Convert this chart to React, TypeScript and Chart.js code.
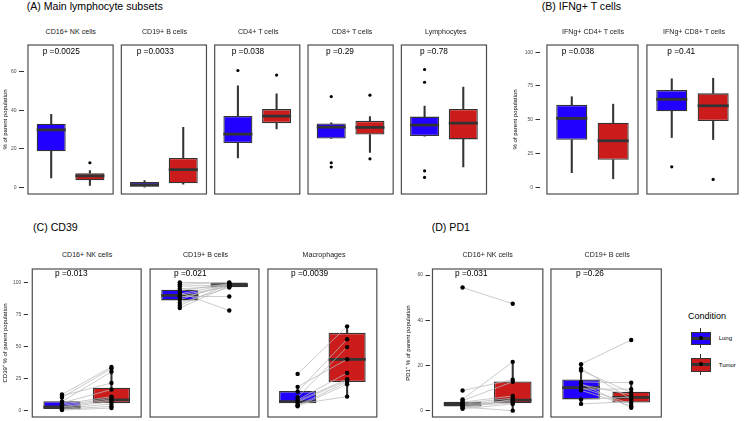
import React, { useEffect, useRef } from 'react';
import { Chart, registerables } from 'chart.js';

Chart.register(...registerables);

const FONT = '"Liberation Sans", Arial, Helvetica, sans-serif';

const CONDITIONS = ['Lung', 'Tumor'];
const CONDITION_COLORS = ['#2200ff', '#cc1b1b'];
const LEGEND_TITLE = 'Condition';

// ---------- (A) Main lymphocyte subsets ----------
const A_TITLE = '(A) Main lymphocyte subsets';
const A_Y_TITLE = '% of parent population';
const A_FACETS = ['CD16+ NK cells', 'CD19+ B cells', 'CD4+ T cells', 'CD8+ T cells', 'Lymphocytes'];
const A_PVALUES = ['p =0.0025', 'p =0.0033', 'p =0.038', 'p =0.29', 'p =0.78'];
const A_Y_TICKS = [0, 20, 40, 60];
const A_Y_RANGE = [-3.4, 73.8];
// [lower whisker, Q1, median, Q3, upper whisker]
const A_LUNG_BOX = [
  [4.9, 18.7, 29.8, 33.0, 37.9],
  [0.1, 0.3, 1.3, 2.8, 3.5],
  [15.3, 23.0, 27.6, 37.0, 52.7],
  [25.3, 25.3, 31.3, 33.1, 33.5],
  [26.6, 26.6, 32.3, 36.7, 42.2],
];
const A_TUMOR_BOX = [
  [1.0, 3.7, 6.0, 7.4, 8.7],
  [1.7, 2.2, 9.2, 15.3, 31.1],
  [30.3, 33.3, 37.0, 40.6, 48.5],
  [18.2, 27.4, 31.1, 34.5, 36.7],
  [10.6, 24.9, 33.3, 40.7, 52.0],
];
const A_LUNG_OUTLIERS = [[], [], [60.6], [47.1, 12.8, 10.6], [61.1, 54.5, 8.6, 5.2]];
const A_TUMOR_OUTLIERS = [[12.8], [], [58.2], [47.8, 14.8], []];

// ---------- (B) IFNg+ T cells ----------
const B_TITLE = '(B) IFNg+ T cells';
const B_Y_TITLE = '% of parent population';
const B_FACETS = ['IFNg+ CD4+ T cells', 'IFNg+ CD8+ T cells'];
const B_PVALUES = ['p =0.038', 'p =0.41'];
const B_Y_TICKS = [0, 25, 50, 75, 100];
const B_Y_RANGE = [-5.0, 105.3];
const B_LUNG_BOX = [
  [10.8, 35.1, 51.0, 61.0, 67.0],
  [36.8, 56.2, 65.1, 71.9, 80.3],
];
const B_TUMOR_BOX = [
  [6.3, 20.4, 34.4, 47.8, 61.5],
  [35.3, 49.0, 60.3, 69.5, 80.7],
];
const B_LUNG_OUTLIERS = [[], [15.1]];
const B_TUMOR_OUTLIERS = [[], [5.8]];

// ---------- (C) CD39 ----------
const C_TITLE = '(C) CD39';
const C_Y_TITLE = 'CD39\u207A % of parent population';
const C_FACETS = ['CD16+ NK cells', 'CD19+ B cells', 'Macrophages'];
const C_PVALUES = ['p =0.013', 'p =0.021', 'p =0.0039'];
const C_Y_TICKS = [0, 25, 50, 75, 100];
const C_Y_RANGE = [-5.0, 110.4];
const C_LUNG_BOX = [
  [0.3, 1.2, 2.8, 7.3, 12.5],
  [79.5, 85.9, 89.9, 94.2, 100.0],
  [3.3, 5.8, 7.0, 15.2, 18.5],
];
const C_TUMOR_BOX = [
  [2.0, 5.8, 8.4, 17.9, 34.0],
  [95.5, 96.2, 97.7, 99.8, 100.0],
  [10.9, 22.3, 40.0, 60.6, 65.7],
];
// paired samples (same index = same patient)
const C_LUNG_VALUES = [
  [12.5, 11.5, 10.2, 7.0, 6.0, 5.0, 4.0, 3.0, 2.4, 1.6, 1.0, 0.4],
  [100.0, 98.5, 97.0, 95.0, 93.5, 92.0, 91.0, 90.0, 89.0, 88.0, 86.5, 84.0, 82.0, 80.0],
  [28.6, 18.5, 14.7, 10.4, 8.3, 6.6, 5.1, 4.1, 3.3, 7.5],
];
const C_TUMOR_VALUES = [
  [34.0, 21.5, 32.8, 30.3, 16.4, 10.9, 9.6, 8.4, 7.1, 5.1, 3.3, 2.0],
  [99.5, 100.0, 98.0, 97.0, 99.0, 78.0, 98.5, 96.5, 89.0, 97.5, 99.2, 96.0, 98.8, 97.2],
  [65.7, 40.0, 55.6, 49.5, 29.3, 23.5, 10.9, 22.3, 20.5, 24.5],
];

// ---------- (D) PD1 ----------
const D_TITLE = '(D) PD1';
const D_Y_TITLE = 'PD1\u207A % of parent population';
const D_FACETS = ['CD16+ NK cells', 'CD19+ B cells'];
const D_PVALUES = ['p =0.031', 'p =0.26'];
const D_Y_TICKS = [0, 20, 40, 60];
const D_Y_RANGE = [-2.8, 62.7];
const D_LUNG_BOX = [
  [0.8, 1.9, 2.9, 4.0, 5.5],
  [3.0, 5.0, 10.2, 13.8, 20.6],
];
const D_TUMOR_BOX = [
  [0.0, 3.3, 4.7, 12.9, 21.6],
  [1.3, 3.6, 5.9, 8.4, 12.4],
];
const D_LUNG_VALUES = [
  [54.5, 8.9, 5.0, 4.4, 3.8, 3.3, 2.9, 2.5, 2.0, 1.6, 1.2, 0.8],
  [20.6, 18.7, 17.8, 12.7, 11.5, 10.2, 9.0, 5.0, 3.0, 12.0, 9.6],
];
const D_TUMOR_VALUES = [
  [47.3, 13.7, 21.6, 12.8, 6.5, 5.5, 4.5, 4.0, 3.5, 0.0, 5.0, 3.0],
  [31.3, 5.0, 8.0, 12.4, 7.0, 3.0, 2.0, 6.0, 4.0, 1.3, 9.5],
];

// ---------- layout (pixels) ----------
const GROUP_OFFSET = 0.6; // ggplot discrete expansion
const FACET_UNITS = 2.2;
const BOX_WIDTH = 0.75;

const LAYOUT: any = {
  A: { canvasLeft: 0, axisRight: 23.5, top: 43, bottom: 196, facetLefts: [28, 121.75, 215.5, 309.25, 403], facetW: 85.5,
    titleX: 26.7, titleBase: 9.5, stripBase: 35, pBase: 54, pX: [42.7, 136.7, 231.7, 326, 420], pointR: 1.6 },
  B: { canvasLeft: 510, axisRight: 540, top: 43, bottom: 196, facetLefts: [547, 648], facetW: 92,
    titleX: 541.7, titleBase: 9.5, stripBase: 35, pBase: 54, pX: [561.7, 667.3], pointR: 1.6 },
  C: { canvasLeft: 0, axisRight: 28.3, top: 267, bottom: 419, facetLefts: [32.3, 150.8, 269.3], facetW: 109.5,
    titleX: 33, titleBase: 231.3, stripBase: 258.3, pBase: 276.5, pX: [55, 174, 291], pointR: 2.2 },
  D: { canvasLeft: 402.5, axisRight: 429.5, top: 267, bottom: 419, facetLefts: [432, 551.5], facetW: 111.3,
    titleX: 431.7, titleBase: 231.3, stripBase: 258.3, pBase: 276.5, pX: [455, 576], pointR: 2.2 },
};

function facetList(names: string[], pvals: string[], lungBox: number[][], tumorBox: number[][], lungPts: number[][], tumorPts: number[][], paired: boolean) {
  return names.map((label, i) => ({ label, p: pvals[i], lungBox: lungBox[i], tumorBox: tumorBox[i], lungPts: lungPts[i], tumorPts: tumorPts[i], paired }));
}

const PANELS = [
  { key: 'A', title: A_TITLE, yTitle: A_Y_TITLE, ticks: A_Y_TICKS, range: A_Y_RANGE,
    facets: facetList(A_FACETS, A_PVALUES, A_LUNG_BOX, A_TUMOR_BOX, A_LUNG_OUTLIERS, A_TUMOR_OUTLIERS, false) },
  { key: 'B', title: B_TITLE, yTitle: B_Y_TITLE, ticks: B_Y_TICKS, range: B_Y_RANGE,
    facets: facetList(B_FACETS, B_PVALUES, B_LUNG_BOX, B_TUMOR_BOX, B_LUNG_OUTLIERS, B_TUMOR_OUTLIERS, false) },
  { key: 'C', title: C_TITLE, yTitle: C_Y_TITLE, ticks: C_Y_TICKS, range: C_Y_RANGE,
    facets: facetList(C_FACETS, C_PVALUES, C_LUNG_BOX, C_TUMOR_BOX, C_LUNG_VALUES, C_TUMOR_VALUES, true) },
  { key: 'D', title: D_TITLE, yTitle: D_Y_TITLE, ticks: D_Y_TICKS, range: D_Y_RANGE,
    facets: facetList(D_FACETS, D_PVALUES, D_LUNG_BOX, D_TUMOR_BOX, D_LUNG_VALUES, D_TUMOR_VALUES, true) },
];

function geometry(key: string) {
  const L = LAYOUT[key];
  const unit = L.facetW / FACET_UNITS;
  const lastRight = L.facetLefts[L.facetLefts.length - 1] + L.facetW;
  const canvasW = Math.ceil(lastRight + 2 - L.canvasLeft);
  const canvasH = Math.round(L.bottom - L.top) + 4;
  const chartRight = L.canvasLeft + canvasW - 2;
  const xMax = (chartRight - L.axisRight) / unit;
  const starts = L.facetLefts.map((l: number) => (l - L.axisRight) / unit);
  return { L, unit, canvasW, canvasH, xMax, starts };
}

const facetBorders = {
  id: 'facetBorders',
  afterDraw(chart: any, _args: any, opts: any) {
    const { ctx, chartArea, scales } = chart;
    ctx.save();
    ctx.strokeStyle = '#4d4d4d';
    ctx.lineWidth = 1.2;
    (opts.starts || []).forEach((s: number) => {
      const l = scales.x.getPixelForValue(s);
      const r = scales.x.getPixelForValue(s + FACET_UNITS);
      ctx.strokeRect(l, chartArea.top, r - l, chartArea.bottom - chartArea.top);
    });
    ctx.restore();
  },
};

function makeConfig(panel: any) {
  const { L, xMax, starts } = geometry(panel.key);
  const datasets: any[] = [];
  const boxes: any[] = [], boxColors: string[] = [], wLo: any[] = [], wHi: any[] = [];
  const points: any[] = [];
  panel.facets.forEach((f: any, i: number) => {
    const xs = [starts[i] + GROUP_OFFSET, starts[i] + GROUP_OFFSET + 1];
    [f.lungBox, f.tumorBox].forEach((b: number[], j: number) => {
      const x = xs[j];
      boxes.push({ x, y: [b[1], b[3]] });
      boxColors.push(CONDITION_COLORS[j]);
      wLo.push({ x, y: [b[0], b[1]] });
      wHi.push({ x, y: [b[3], b[4]] });
      datasets.push({
        type: 'line', order: 3,
        data: [{ x: x - BOX_WIDTH / 2, y: b[2] }, { x: x + BOX_WIDTH / 2, y: b[2] }],
        borderColor: '#333333', borderWidth: 2.8, pointRadius: 0, fill: false, tension: 0,
      });
    });
    if (f.paired) {
      f.lungPts.forEach((v: number, k: number) => {
        datasets.push({
          type: 'line', order: 2,
          data: [{ x: xs[0], y: v }, { x: xs[1], y: f.tumorPts[k] }],
          borderColor: 'rgba(185,185,185,0.75)', borderWidth: 1, pointRadius: 0, fill: false, tension: 0,
        });
      });
    }
    f.lungPts.forEach((v: number) => points.push({ x: xs[0], y: v }));
    f.tumorPts.forEach((v: number) => points.push({ x: xs[1], y: v }));
  });
  datasets.push({
    type: 'bar', order: 4, data: boxes, backgroundColor: boxColors, borderColor: '#333333', borderWidth: 1.3,
    borderSkipped: false, grouped: false, barPercentage: BOX_WIDTH, categoryPercentage: 1,
  });
  datasets.push({ type: 'bar', order: 5, data: wLo, backgroundColor: '#333333', borderWidth: 0, grouped: false, barThickness: 1.4 });
  datasets.push({ type: 'bar', order: 5, data: wHi, backgroundColor: '#333333', borderWidth: 0, grouped: false, barThickness: 1.4 });
  datasets.push({
    type: 'scatter', order: 1, data: points, pointRadius: L.pointR, pointBackgroundColor: '#000000',
    pointBorderWidth: 0, showLine: false,
  });

  const axisW = L.axisRight - L.canvasLeft;
  return {
    type: 'bar',
    data: { datasets },
    plugins: [facetBorders],
    options: {
      responsive: false,
      maintainAspectRatio: false,
      animation: false,
      events: [],
      layout: { padding: { left: 0, right: 2, top: 2, bottom: 2 } },
      plugins: {
        legend: { display: false },
        tooltip: { enabled: false },
        title: { display: false },
        facetBorders: { starts },
      },
      scales: {
        x: {
          type: 'linear', display: false, min: 0, max: xMax, offset: false, grid: { offset: false },
          afterBuildTicks: (s: any) => { s.ticks = [{ value: 0 }, { value: xMax }]; },
        },
        y: {
          type: 'linear', min: panel.range[0], max: panel.range[1], beginAtZero: false,
          afterBuildTicks: (s: any) => { s.ticks = panel.ticks.map((v: number) => ({ value: v })); },
          afterFit: (s: any) => { s.width = axisW; s.paddingTop = 0; s.paddingBottom = 0; },
          grid: { drawOnChartArea: false, drawTicks: true, tickLength: 4.5, color: '#333333', lineWidth: 1 },
          border: { display: false },
          ticks: { font: { family: FONT, size: 5 }, color: '#4d4d4d', padding: 2.5 },
          title: { display: true, text: panel.yTitle, font: { family: FONT, size: 6 }, color: '#000000', padding: { top: 1.4, bottom: 0 } },
        },
      },
    },
  };
}

function PanelChart({ panel }: { panel: any }) {
  const ref = useRef<HTMLCanvasElement | null>(null);
  const { L, canvasW, canvasH } = geometry(panel.key);
  useEffect(() => {
    const chart = new Chart(ref.current as HTMLCanvasElement, makeConfig(panel) as any);
    return () => chart.destroy();
  }, []);
  return (
    <canvas
      ref={ref}
      width={canvasW}
      height={canvasH}
      style={{ position: 'absolute', left: L.canvasLeft, top: L.top - 2, width: canvasW, height: canvasH }}
    />
  );
}

function Txt({ x, base, size, children, center = false, color = '#000' }: any) {
  return (
    <div
      style={{
        position: 'absolute', left: x, top: base - 0.8465 * size, fontSize: size, lineHeight: `${size}px`,
        whiteSpace: 'nowrap', color, fontFamily: FONT, transform: center ? 'translateX(-50%)' : undefined,
      }}
    >
      {children}
    </div>
  );
}

const LEGEND = {
  titleX: 688, titleBase: 319.3, keyLeft: 690.7, keyW: 20, labelX: 718.7,
  keys: [
    { wTop: 328.3, wBot: 348.3, bTop: 331.7, bBot: 345.3, med: 338.3, labelBase: 340.5 },
    { wTop: 354.3, wBot: 375, bTop: 357.7, bBot: 371.7, med: 364.3, labelBase: 367 },
  ],
};

function LegendKey({ k, color }: any) {
  const cx = LEGEND.keyLeft + LEGEND.keyW / 2;
  return (
    <>
      <div style={{ position: 'absolute', left: cx - 0.7, top: k.wTop, width: 1.4, height: k.wBot - k.wTop, background: '#333' }} />
      <div style={{ position: 'absolute', left: LEGEND.keyLeft, top: k.bTop, width: LEGEND.keyW, height: k.bBot - k.bTop, background: color, border: '1.3px solid #333', boxSizing: 'border-box' }} />
      <div style={{ position: 'absolute', left: LEGEND.keyLeft, top: k.med - 1.3, width: LEGEND.keyW, height: 2.6, background: '#333' }} />
      <div style={{ position: 'absolute', left: cx - 2.2, top: k.med - 2.2, width: 4.4, height: 4.4, borderRadius: '50%', background: '#000' }} />
    </>
  );
}

export default function App() {
  return (
    <div style={{ position: 'fixed', left: 0, top: 0, width: 745, height: 421, overflow: 'hidden', background: '#fff', fontFamily: FONT }}>
      {PANELS.map((p) => <PanelChart key={p.key} panel={p} />)}
      {PANELS.map((p) => {
        const L = LAYOUT[p.key];
        return (
          <React.Fragment key={'t' + p.key}>
            <Txt x={L.titleX} base={L.titleBase} size={10.6}>{p.title}</Txt>
            {p.facets.map((f: any, i: number) => (
              <React.Fragment key={i}>
                <Txt x={L.facetLefts[i] + L.facetW / 2} base={L.stripBase} size={7.1} center color="#1a1a1a">{f.label}</Txt>
                <Txt x={L.pX[i]} base={L.pBase} size={8.3}>{f.p}</Txt>
              </React.Fragment>
            ))}
          </React.Fragment>
        );
      })}
      <Txt x={LEGEND.titleX} base={LEGEND.titleBase} size={9}>{LEGEND_TITLE}</Txt>
      {CONDITIONS.map((c, i) => (
        <React.Fragment key={c}>
          <LegendKey k={LEGEND.keys[i]} color={CONDITION_COLORS[i]} />
          <Txt x={LEGEND.labelX} base={LEGEND.keys[i].labelBase} size={6}>{c}</Txt>
        </React.Fragment>
      ))}
    </div>
  );
}
